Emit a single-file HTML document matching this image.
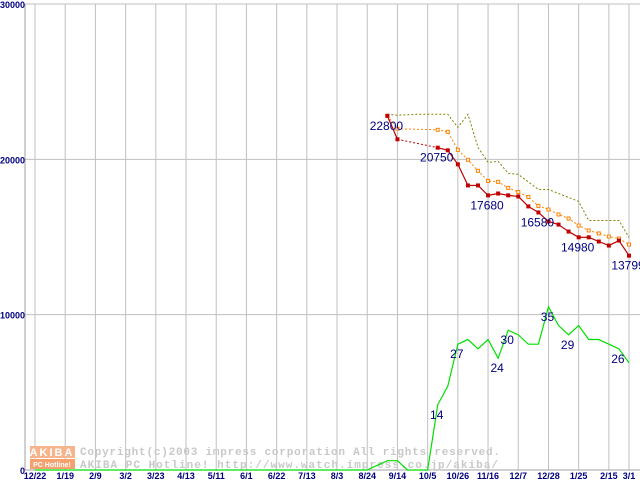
<!DOCTYPE html>
<html><head><meta charset="utf-8"><style>
body{margin:0;background:#fff;}
svg{display:block;font-family:"Liberation Sans",sans-serif;}
</style></head><body>
<svg id="c" width="640" height="480" viewBox="0 0 640 480">
<g id="grid"></g>
<g id="wm">
 <rect x="30" y="446" width="45" height="12" fill="#f6b48c"/>
 <text x="52" y="456" font-size="11" font-weight="bold" fill="#fff" text-anchor="middle" letter-spacing="2">AKIBA</text>
 <rect x="30" y="459" width="45" height="10" fill="#f6a070"/>
 <text x="52" y="467" font-size="7" font-weight="bold" fill="#fff" text-anchor="middle">PC Hotline!</text>
 <text x="80" y="455" font-size="11" font-weight="bold" fill="#c8c8c8" font-family="Liberation Mono, monospace" textLength="420" lengthAdjust="spacing">Copyright(c)2003 impress corporation All rights reserved.</text>
 <text x="80" y="468" font-size="11" font-weight="bold" fill="#c8c8c8" font-family="Liberation Mono, monospace" textLength="418" lengthAdjust="spacing">AKIBA PC Hotline!  http://www.watch.impress.co.jp/akiba/</text>
</g>
<g id="series"></g>
</svg>
<script>
const xLabels=["12/22","1/19","2/9","3/2","3/23","4/13","5/11","6/1","6/22","7/13","8/3","8/24","9/14","10/5","10/26","11/16","12/7","12/28","1/25","2/15","3/1"];
const xLabelIdx=[0,3,6,9,12,15,18,21,24,27,30,33,36,39,42,45,48,51,54,57,59];
const yTicks=[0,10000,20000,30000];
const minIdx=[35,36,40,41,42,43,44,45,46,47,48,49,50,51,52,53,54,55,56,57,58,59];
const minVal=[22800,21290,20750,20580,19680,18320,18320,17680,17800,17680,17610,16970,16580,16000,15800,15350,14980,14980,14710,14450,14770,13799];
const avgIdx=[35,36,40,41,42,43,44,45,46,47,48,49,50,51,52,53,54,55,56,57,58,59];
const avgVal=[22800,21970,21900,21770,20610,19970,19260,18610,18550,18160,17900,17580,17000,16770,16450,16190,15740,15420,15230,15030,14900,14520];
const maxIdx=[35,36,38,41,42,43,44,45,46,47,48,50,51,54,55,58,59];
const maxVal=[22900,22840,22900,22900,22060,22900,20770,19800,19870,19100,19030,18060,18060,17290,16060,16060,14970];
const cntIdx=[0,33,34,35,36,37,39,40,41,42,43,44,45,46,47,48,49,50,51,52,53,54,55,56,57,58,59];
const cntVal=[0,0,1,2,2,0,0,14,18,27,28,26,28,24,30,29,27,27,35,31,29,31,28,28,27,26,23];
const priceLabels=[[35,22800],[40,20750],[45,17680],[50,16580],[54,14980],[59,13799]];
const cntLabels=[[40,14],[42,27],[46,24],[47,30],[51,35],[53,29],[58,26]];
const NS="http://www.w3.org/2000/svg";
const X=p=>35+p*10.068;
const Y=v=>470-v*466/30000;
const YC=c=>470-c*4.66;
function mk(tag,attrs,parent,txt){const e=document.createElementNS(NS,tag);for(const k in attrs)e.setAttribute(k,attrs[k]);if(txt!==undefined)e.textContent=txt;parent.appendChild(e);return e;}
const grid=document.getElementById('grid'),ser=document.getElementById('series');
yTicks.forEach(v=>{
 if(v>0){const l=mk('line',{x1:25,x2:640,y1:Y(v),y2:Y(v),stroke:'#c0c0c0','stroke-width':1},grid);
 
 }
 const t=mk('text',{x:25,y:Y(v)+4,'font-size':9,'font-weight':'bold',fill:'#000080','text-anchor':'end'},grid,String(v));
 
 
});
xLabels.forEach((s,i)=>{
 const x=X(xLabelIdx[i]);
 const l=mk('line',{x1:x,x2:x,y1:4,y2:470,stroke:'#c0c0c0','stroke-width':1},grid);
 
 
 const t=mk('text',{x:x,y:479,'font-size':9,fill:'#000080','text-anchor':'middle','font-weight':'bold'},grid,s);
 
 
});
const ax=mk('path',{d:'M25 4V470H640',stroke:'#a0a0a0',fill:'none','stroke-width':1},grid);


function poly(idx,val,fy,attrs,name){const pts=idx.map((p,i)=>X(p)+','+fy(val[i])).join(' ');const e=mk('polyline',Object.assign({points:pts,fill:'none'},attrs),ser);return e;}
poly(cntIdx,cntVal,YC,{stroke:'#00e000','stroke-width':1.2},'count-line');
poly(maxIdx,maxVal,Y,{stroke:'#808000','stroke-width':1,'stroke-dasharray':'2,2'},'max-price-line');
poly(avgIdx,avgVal,Y,{stroke:'#ff8000','stroke-width':1,'stroke-dasharray':'2,2'},'avg-price-line');
// min line: solid between consecutive weeks, dotted across gaps
for(let i=1;i<minIdx.length;i++){
 const gap=minIdx[i]-minIdx[i-1]>1;
 const a={x1:X(minIdx[i-1]),y1:Y(minVal[i-1]),x2:X(minIdx[i]),y2:Y(minVal[i]),stroke:'#c00000','stroke-width':gap?1:1.2};
 if(gap)a['stroke-dasharray']='2,2';
 const l=mk('line',a,ser);
 
 
}
avgIdx.forEach((p,i)=>{const r=mk('rect',{x:X(p)-1.5,y:Y(avgVal[i])-1.5,width:3,height:3,fill:'#fff',stroke:'#ff8000','stroke-width':1},ser);
 
 });
minIdx.forEach((p,i)=>{const r=mk('rect',{x:X(p)-2,y:Y(minVal[i])-2,width:4,height:4,fill:'#c00000'},ser);
 
 });
priceLabels.forEach(([p,v])=>{const t=mk('text',{x:X(p)-1,y:Y(v)+14,'font-size':12,fill:'#000080','text-anchor':'middle'},ser,String(v));
 
 });
cntLabels.forEach(([p,v])=>{const t=mk('text',{x:X(p)-1,y:YC(v)+14,'font-size':12,fill:'#000080','text-anchor':'middle'},ser,String(v));
 
 });
</script>
</body></html>
